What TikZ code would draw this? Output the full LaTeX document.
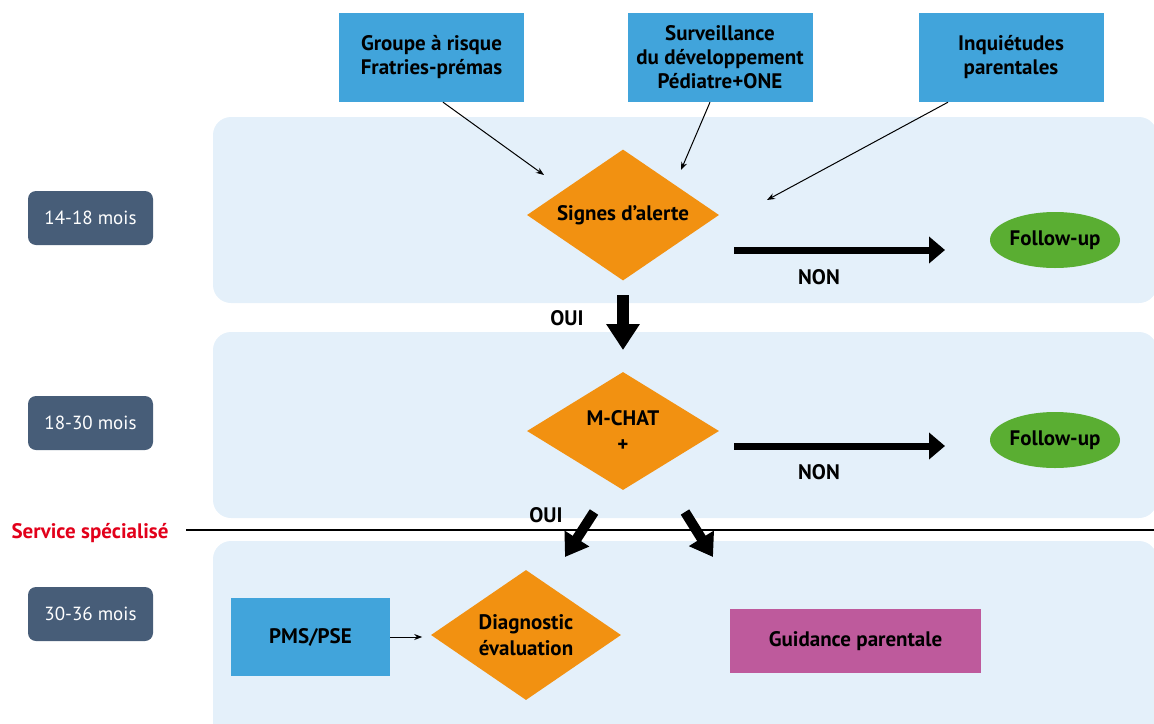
\documentclass[tikz,border=0pt]{standalone}
\usepackage{fontspec}
\setmainfont{PT Sans}
\usetikzlibrary{positioning,shapes.geometric,arrows.meta}
\definecolor{bandblue}{HTML}{E4F0FA}
\definecolor{boxblue}{HTML}{41A4DB}
\definecolor{agegrey}{HTML}{475D78}
\definecolor{decorange}{HTML}{F29111}
\definecolor{followgreen}{HTML}{5AAE32}
\definecolor{guidpink}{HTML}{BE5A9C}
\definecolor{servred}{HTML}{E2001A}

\begin{document}
\begin{tikzpicture}[x=1pt,y=-1pt,
		band/.style={fill=bandblue, rounded corners=18pt},
		source/.style={rectangle, fill=boxblue, minimum width=185pt, minimum height=89pt, align=center, font=\bfseries\fontsize{21}{24}\selectfont},
		age/.style={rectangle, rounded corners=8pt, fill=agegrey, text=white, minimum width=125pt, minimum height=54pt, font=\fontsize{19}{22}\selectfont},
		decision/.style={diamond, fill=decorange, inner sep=0pt},
		dectext/.style={align=center, font=\bfseries\fontsize{21}{26}\selectfont},
		follow/.style={ellipse, fill=followgreen, inner sep=0pt, minimum width=130pt, minimum height=56pt, font=\bfseries\fontsize{21}{24}\selectfont},
		answer/.style={font=\bfseries\fontsize{21}{24}\selectfont},
		thin/.style={-{Stealth[length=8pt,width=6pt]}, line width=1pt},
		bigh/.style={line width=7pt, -{Triangle[width=26pt,length=16pt]}},
		bigv/.style={line width=12pt, -{Triangle[width=32pt,length=26pt]}},
		bigd/.style={line width=10pt, -{Triangle[width=28pt,length=22pt]}}
	]
	\useasboundingbox (0,0) rectangle (1154,723);
	% bands
	\fill[band] (213,117) rectangle (1157,303);
	\fill[band] (213,332) rectangle (1157,518);
	\fill[band] (213,541) rectangle (1157,740);
	% ages
	\node[age] (ageone) at (90.5,218) {14-18 mois};
	\node[age] (agetwo) at (90.5,423) {18-30 mois};
	\node[age] (agethree) at (90.5,614) {30-36 mois};
	% sources
	\node[source] (risque) at (431.5,57.5) {Groupe à risque\\Fratries-prémas};
	\node[source] (surveil) at (720,57.5) {Surveillance\\du développement\\Pédiatre+ONE};
	\node[source] (inquiet) at (1011,57.5) {Inquiétudes\\parentales};
	% decisions
	\node[decision, minimum width=192pt, minimum height=131pt, label={[dectext]center:Signes d’alerte}] (alerte) at (623,215) {};
	\node[decision, minimum width=192pt, minimum height=118pt, label={[dectext]center:M-CHAT\\+}] (mchat) at (623,431) {};
	\node[decision, minimum width=190pt, minimum height=130pt, label={[dectext]center:Diagnostic\\évaluation}] (diag) at (526,635) {};
	% outcomes
	\node[follow] (followone) at (1055,240) {Follow-up};
	\node[follow] (followtwo) at (1055,440) {Follow-up};
	\node[rectangle, fill=boxblue, minimum width=159pt, minimum height=78pt, font=\bfseries\fontsize{21}{24}\selectfont] (pms) at (310.5,637) {PMS/PSE};
	\node[rectangle, fill=guidpink, minimum width=251pt, minimum height=64pt, font=\bfseries\fontsize{21}{24}\selectfont] (guidance) at (855.5,641) {Guidance parentale};
	% service line
	\node[text=servred, font=\bfseries\fontsize{21}{24}\selectfont] (service) at (90,533) {Service spécialisé};
	\coordinate (sepend) at (1154,530);
	\draw[line width=1.5pt] (186,530) -- (sepend);
	% thin arrows
	\coordinate (endrisque) at (544,175);
	\coordinate (endsurveil) at (681,170);
	\coordinate (endinquiet) at (767,200);
	\draw[thin] ([xshift=11.5pt]risque.south) -- (endrisque);
	\draw[thin] ([xshift=-10pt]surveil.south) -- (endsurveil);
	\draw[thin] ([xshift=-63pt]inquiet.south) -- (endinquiet);
	\draw[thin] (pms.east) -- ++(32,0);
	% big arrows
	\coordinate (nonone) at (734,250);
	\coordinate (nontwo) at (734,446);
	\draw[bigh] (nonone) -- ++(211,0);
	\draw[bigh] (nontwo) -- ++(211,0);
	\node[answer] (labnonone) at (819,277) {NON};
	\node[answer] (labnontwo) at (819,472) {NON};
	\coordinate (ouistart) at (623,295);
	\draw[bigv] (ouistart) -- ++(0,55);
	\node[answer] (labouione) at (567,318) {OUI};
	\coordinate (diagstart) at (594,512);
	\coordinate (guidstart) at (685,512);
	\draw[bigd] (diagstart) -- (565,557);
	\draw[bigd] (guidstart) -- (713,557);
	\node[answer] (labouitwo) at (546,515) {OUI};
\end{tikzpicture}
\end{document}
